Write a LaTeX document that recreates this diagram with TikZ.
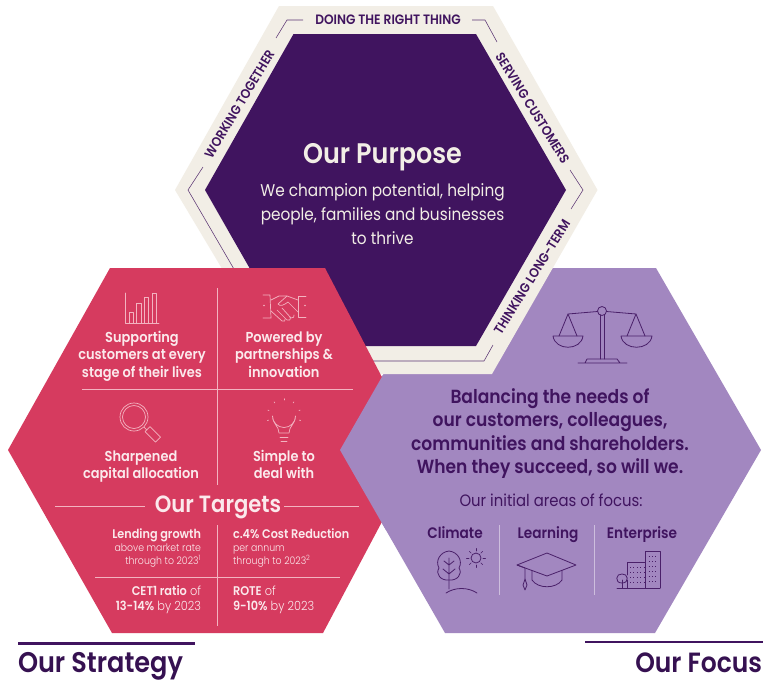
\documentclass[tikz,border=0pt]{standalone}
\usepackage{fontspec}
\setmainfont{Poppins}[FakeStretch=0.9]
\newfontfamily\semi{Poppins SemiBold}[FakeStretch=0.9]
\newfontfamily\lite{Poppins Light}[FakeStretch=0.9]
\definecolor{beige}{HTML}{F2EEE6}
\definecolor{deep}{HTML}{40145F}
\definecolor{rosso}{HTML}{D63B5F}
\definecolor{lilac}{HTML}{A287C0}
\definecolor{soft}{HTML}{FBE9EC}
\definecolor{sepl}{HTML}{CDBEDD}
\definecolor{rline}{HTML}{F3B3C0}
\newcommand{\fs}[2]{\fontsize{#1}{#2}\selectfont}
\newcommand{\beigehex}{(279,6) -- (493,6) -- (597.5,190) -- (492,374) -- (285,374) -- (175,190) -- cycle}
\newcommand{\redhex}{(110,268) -- (325,268) -- (420,450) -- (323,633) -- (112,633) -- (8,450) -- cycle}
\newcommand{\lilachex}{(444,268) -- (656,268) -- (761,450) -- (655,633) -- (445,633) -- (340,450) -- cycle}
\tikzset{
  txt/.style={inner sep=0pt,outer sep=0pt,align=center},
  ring/.style={txt,text=deep,font=\semi\fs{13.3}{16}},
  wb/.style={txt,text=soft,font=\semi\fs{14.4}{17.5}},
  ln/.style={draw=rline,line width=.7pt},
  ic/.style={draw=rline,line width=.7pt,line join=round,line cap=round},
  pc/.style={draw=deep!90!lilac,line width=.8pt,line join=round,line cap=round},
  thin/.style={draw=deep!85!beige,line width=.55pt},
  bar/.style={draw=deep,line width=2.6pt},
  head/.style={txt,text=deep!85!black,font=\semi\fs{28.4}{32}},
  db/.style={txt,text=deep,font=\semi\fs{19}{23.4}},
  dl/.style={txt,text=deep,font=\semi\fs{15.2}{18}},
}
\begin{document}
\begin{tikzpicture}[x=1pt,y=-1pt]
\useasboundingbox (0,0) rectangle (781,691);
\fill[white] (0,0) rectangle (781,691);
% shapes
\fill[lilac] \lilachex;
\fill[beige] \beigehex;
\fill[deep] (293.5,34) -- (476,34) -- (566,190) -- (476,346) -- (294,346) -- (205,190) -- cycle;
% thin corner rules
\coordinate (t1) at (276,38); \coordinate (t2) at (287,20); \coordinate (t3) at (303,20);
\coordinate (t4) at (472,20); \coordinate (t5) at (485,20); \coordinate (t6) at (497,42);
\coordinate (r1) at (570,170); \coordinate (r2) at (583,190); \coordinate (r3) at (571,209);
\coordinate (b1) at (493,345); \coordinate (b2) at (484,361); \coordinate (b3) at (360,361);
\coordinate (l1) at (203,167); \coordinate (l2) at (188,190); \coordinate (l3) at (238,276);
\draw[thin] (t1) -- (t2) -- (t3);
\draw[thin] (t4) -- (t5) -- (t6);
\draw[thin] (r1) -- (r2) -- (r3);
\draw[thin] (b1) -- (b2) -- (b3);
\draw[thin] (l1) -- (l2) -- (l3);
% red hexagon, then the lilac part that lies over it
\fill[rosso] \redhex;
\fill[lilac] (340,450) -- (383,375) -- (440,375) -- (440,530) -- (385.9,530) -- cycle;
% ring words
\node[ring,font=\semi\fs{13.6}{16}] (doing) at (388,20) {DOING THE RIGHT THING};
\node[ring,rotate=-58] (serving) at (532.5,108) {SERVING CUSTOMERS};
\node[ring,rotate=59] (working) at (239.5,104) {WORKING TOGETHER};
\node[ring,rotate=58] (thinking) at (532,277) {THINKING LONG-TERM};
% purpose
\node[txt,text=beige,font=\semi\fs{28.3}{32}] (purpose) at (382.5,157) {Our Purpose};
\node[txt,text=beige,font=\fs{17}{24}] (purposetext) at (382.5,214) {We champion potential, helping\\people, families and businesses\\to thrive};
% strategy grid
\coordinate (g1) at (217.5,288); \coordinate (g2) at (217.5,485);
\coordinate (g3) at (82,389.5); \coordinate (g4) at (353,389.5);
\draw[ln] (g1) -- (g2); \draw[ln] (g3) -- (g4);
\node[wb] (s1) at (142,356) {Supporting\\customers at every\\stage of their lives};
\node[wb] (s2) at (284,354.5) {Powered by\\partnerships \&\\innovation};
\node[wb] (s3) at (141,466.5) {Sharpened\\capital allocation};
\node[wb] (s4) at (284,464.5) {Simple to\\deal with};
% bar chart icon
\draw[ic] (125,293) -- (125,323) -- (159,323);
\draw[ic] (129,323) -- (129,312) -- (133,312) -- (133,323);
\draw[ic] (136.5,323) -- (136.5,303) -- (141,303) -- (141,323);
\draw[ic] (144,323) -- (144,297) -- (148.5,297) -- (148.5,323);
\draw[ic] (152,323) -- (152,293) -- (156,293) -- (156,323);
% handshake icon
\draw[ic] (263,295) -- (270,295) -- (271,318) -- (263,318);
\draw[ic] (306,296) -- (298,296) -- (298,317) -- (306,317);
\draw[ic] (271,300) -- (279,296) -- (287,296) -- (298,300);
\draw[ic] (287,296) -- (278,304) .. controls (280,307) and (284,305) .. (288,302) -- (298,312);
\draw[ic] (271,311) -- (282,321) .. controls (284,322) and (286,321) .. (285,319);
\draw[ic] (277,310) -- (287,320) .. controls (289,321) and (291,320) .. (290,317);
\draw[ic] (282,308) -- (291,318) .. controls (293,318) and (295,317) .. (294,315);
\fill[rline] (264,305.5) circle (.8) (305,305.5) circle (.8);
% magnifier icon
\draw[ic] (134,417) circle (14) (134,417) circle (11.5);
\draw[ic] (144,427) -- (147,430);
\draw[ic] (145,431.5) -- (150,426.5) -- (160.5,437) -- (155.5,442) -- cycle;
% bulb icon
\draw[ic] (279,433) .. controls (279,426) and (272.5,424) .. (272.5,416) arc (180:0:11.5) .. controls (295.5,424) and (289,426) .. (289,433) -- cycle;
\draw[ic] (280,437) -- (288,437) (281,441) -- (287,441);
\foreach \a in {200,235,270,305,340,165,15}{\draw[ic] (284,416)++({\a}:16) -- ++({\a}:1.2);}
% targets
\coordinate (h1) at (55,506); \coordinate (h2) at (145,506);
\coordinate (h3) at (284,506); \coordinate (h4) at (359,506);
\draw[ln] (h1) -- (h2); \draw[ln] (h3) -- (h4);
\node[txt,text=soft,font=\semi\fs{23.5}{26}] (targets) at (218,507.5) {Our Targets};
\coordinate (v1) at (217.5,525); \coordinate (v2) at (217.5,626);
\coordinate (w1) at (95,577); \coordinate (w2) at (340,577);
\draw[ln] (v1) -- (v2); \draw[ln] (w1) -- (w2);
\node[txt,anchor=east,align=right,text=soft,font=\lite\fs{10.4}{13}] (t1a) at (201,548) {{\semi\fs{12.5}{15}Lending growth}\\[-.5pt]above market rate\\through to 2023\textsuperscript{1}};
\node[txt,anchor=west,align=left,text=soft,font=\lite\fs{10.4}{13}] (t1b) at (233,548) {{\semi\fs{12.5}{15}c.4\% Cost Reduction}\\[-.5pt]per annum\\through to 2023\textsuperscript{2}};
\node[txt,anchor=east,align=right,text=soft,font=\lite\fs{12.6}{15}] (t2a) at (201,599.5) {{\semi CET1 ratio} of\\{\semi 13-14\%} by 2023};
\node[txt,anchor=west,align=left,text=soft,font=\lite\fs{12.6}{15}] (t2b) at (233,599.5) {{\semi ROTE} of\\{\semi 9-10\%} by 2023};
% focus
\node[db] (balance) at (550,433.5) {Balancing the needs of\\our customers, colleagues,\\communities and shareholders.\\When they succeed, so will we.};
\node[txt,text=deep,font=\fs{16.5}{19}] (areas) at (551,500) {Our initial areas of focus:};
\node[dl] (climate) at (455,534.5) {\vphantom{Lg}Climate};
\node[dl] (learning) at (548,534.5) {\vphantom{Lg}Learning};
\node[dl] (enterprise) at (642,534.5) {\vphantom{Lg}Enterprise};
\coordinate (x1) at (499,525); \coordinate (x2) at (499,595);
\coordinate (x3) at (594,525); \coordinate (x4) at (594,595);
\draw[sepl,line width=.8pt] (x1) -- (x2) (x3) -- (x4);
% scales icon
\draw[pc] (602,311) circle (4.5);
\draw[pc] (597.5,311.5) -- (568,314) (606.5,311.5) -- (636,314);
\draw[pc] (600,315) -- (600,359) (604,315) -- (604,359);
\draw[pc] (578,363) -- (627,363) (585,363) -- (587,359) -- (617,359) -- (620,363);
\draw[pc] (559,336) -- (568,314) -- (577,336);
\draw[pc] (627,336) -- (636,314) -- (645,336);
\draw[pc] (553,336) -- (583,336) .. controls (581,351) and (555,351) .. (553,336);
\draw[pc] (621,336) -- (652,336) .. controls (650,351) and (623,351) .. (621,336);
% tree and sun icon
\draw[pc] (449,580) .. controls (441,581) and (435,574) .. (439,568) .. controls (435,561) and (440,552) .. (449,551) .. controls (458,552) and (463,561) .. (459,568) .. controls (463,574) and (457,581) .. (449,580);
\draw[pc] (449,558) -- (449,589) (449,565) -- (444,561) (449,565) -- (454,561) (449,574) -- (443,569) (449,574) -- (455,569);
\draw[pc] (446,593) .. controls (455,587) and (468,587) .. (477,593);
\draw[pc] (476,558) circle (5);
\foreach \a in {0,45,...,315}{\draw[pc,line width=.6pt] (476,558)++({\a}:7) -- ++({\a}:2.5);}
% cap icon
\draw[pc] (517,565) -- (547,553) -- (576,565) -- (547,576) -- cycle;
\draw[pc] (532,570.5) -- (532,580) .. controls (538,589) and (556,589) .. (562,580) -- (562,570.5);
\draw[pc] (517,565) -- (525,568) -- (525,579);
\draw[pc] (525,579) -- (527,585) -- (525,590) -- (523,585) -- cycle;
% buildings icon
\draw[pc] (645,588) -- (645,551) -- (660,551) -- (660,588);
\draw[pc] (645,562) -- (627,562) -- (627,575);
\draw[pc] (617,588) -- (660,588);
\draw[pc] (622,588) -- (622,580);
\draw[pc] (622,583) .. controls (614,583) and (616,573) .. (622,574) .. controls (628,573) and (630,583) .. (622,583);
\draw[pc] (627,580) -- (627,588);
\foreach \y in {556,561,566,571,576,581}{\draw[pc,line width=.9pt,line cap=butt,dash pattern=on 1pt off 2.4pt] (648.5,\y) -- (658,\y);}
\foreach \y in {567,572,577,582}{\draw[pc,line width=.9pt,line cap=butt,dash pattern=on 1pt off 2.4pt] (630,\y) -- (644,\y);}
% titles
\coordinate (sa) at (18,643.5); \coordinate (sb) at (195,643.5);
\coordinate (fa) at (585,642); \coordinate (fb) at (763,642);
\draw[bar] (sa) -- (sb); \draw[bar] (fa) -- (fb);
\node[head,anchor=west] (strategy) at (18,666) {Our Strategy};
\node[head,anchor=east,font=\semi\fs{27.8}{32}] (focus) at (762,666) {\vphantom{g}Our Focus};
\end{tikzpicture}
\end{document}
